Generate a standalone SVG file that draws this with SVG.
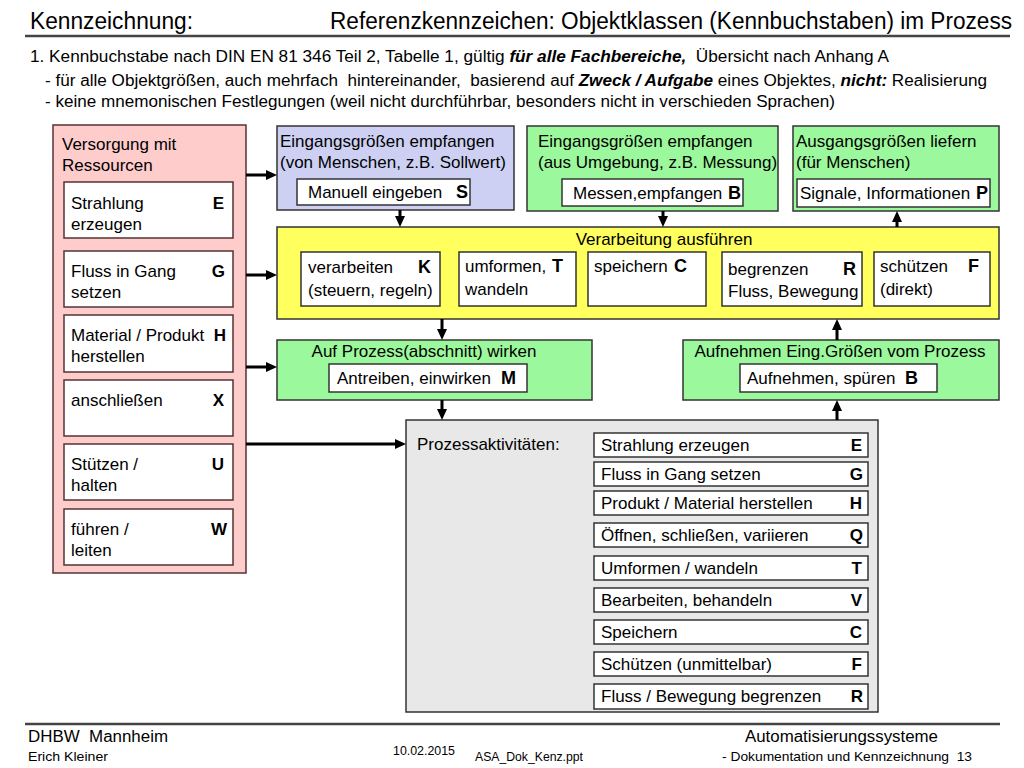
<svg xmlns="http://www.w3.org/2000/svg" width="1024" height="768" viewBox="0 0 1024 768">
<style>
text{font-family:'Liberation Sans',Arial,sans-serif;font-size:17px;fill:#000}
.h{font-size:23px}
.m{font-size:16px}
.s{font-size:13px}
.b{font-weight:bold}
.bi{font-weight:bold;font-style:italic}
.L{font-weight:bold;font-size:18px}
.box{stroke:#333;stroke-width:1.5}
.pink{fill:#FFCCCC;stroke:#553333}
.blue{fill:#CDD0F2}
.green{fill:#9CF89C}
.yellow{fill:#FFFF5E}
.grey{fill:#E8E8E8}
.w{fill:#fff}
.sub{fill:#fff;stroke:#553333;stroke-width:1.5}
.rule{stroke:#444;stroke-width:2.5}
#connectors line{stroke:#000;stroke-width:3}
</style>
<defs>
<marker id="ah" markerUnits="userSpaceOnUse" markerWidth="11" markerHeight="10" refX="0" refY="5" orient="auto">
<path d="M0,0 L11,5 L0,10 z" fill="#000"/>
</marker>
</defs>
<rect width="1024" height="768" fill="#fff"/>

<g id="header">
<text class="h" x="30" y="29" textLength="163" lengthAdjust="spacingAndGlyphs">Kennzeichnung:</text>
<text class="h" x="330" y="29" textLength="682" lengthAdjust="spacingAndGlyphs">Referenzkennzeichen: Objektklassen (Kennbuchstaben) im Prozess</text>
<line class="rule" x1="25" y1="36" x2="1010" y2="36"/>
<text class="m" xml:space="preserve" x="30" y="62" textLength="859" lengthAdjust="spacingAndGlyphs">1. Kennbuchstabe nach DIN EN 81 346 Teil 2, Tabelle 1, gültig <tspan class="bi">für alle Fachbereiche,</tspan>  Übersicht nach Anhang A</text>
<text class="m" xml:space="preserve" x="45" y="86" textLength="942" lengthAdjust="spacingAndGlyphs">- für alle Objektgrößen, auch mehrfach  hintereinander,  basierend auf <tspan class="bi">Zweck / Aufgabe</tspan> eines Objektes, <tspan class="bi">nicht:</tspan> Realisierung</text>
<text class="m" x="45" y="107" textLength="790" lengthAdjust="spacingAndGlyphs">- keine mnemonischen Festlegungen (weil nicht durchführbar, besonders nicht in verschieden Sprachen)</text>
</g>

<g id="resources">
<rect class="box pink" x="53" y="125" width="193" height="448"/>
<text x="62" y="150">Versorgung mit</text>
<text x="62" y="171">Ressourcen</text>
<rect class="sub" x="64" y="182" width="169" height="56"/>
<text x="71" y="209">Strahlung</text><text class="b" x="224" y="209" text-anchor="end">E</text>
<text x="71" y="230">erzeugen</text>
<rect class="sub" x="64" y="251" width="169" height="56"/>
<text x="71" y="277">Fluss in Gang</text><text class="b" x="225" y="277" text-anchor="end">G</text>
<text x="71" y="298">setzen</text>
<rect class="sub" x="64" y="315" width="169" height="57"/>
<text x="71" y="341">Material / Produkt</text><text class="b" x="226" y="341" text-anchor="end">H</text>
<text x="71" y="362">herstellen</text>
<rect class="sub" x="64" y="380" width="169" height="56"/>
<text x="71" y="406">anschließen</text><text class="b" x="224" y="406" text-anchor="end">X</text>
<rect class="sub" x="64" y="444" width="169" height="56"/>
<text x="71" y="470">Stützen /</text><text class="b" x="224" y="470" text-anchor="end">U</text>
<text x="71" y="491">halten</text>
<rect class="sub" x="64" y="509" width="169" height="56"/>
<text x="71" y="535">führen /</text><text class="b" x="227" y="535" text-anchor="end">W</text>
<text x="71" y="556">leiten</text>
</g>

<g id="input-human">
<rect class="box blue" x="277" y="126" width="237" height="84"/>
<text x="280" y="147">Eingangsgrößen empfangen</text>
<text x="280" y="168">(von Menschen, z.B. Sollwert)</text>
<rect class="box w" x="297" y="179" width="173" height="26"/>
<text x="308" y="198">Manuell eingeben</text><text class="L" x="468" y="198" text-anchor="end">S</text>
</g>

<g id="input-env">
<rect class="box green" x="527" y="126" width="251" height="85"/>
<text x="538" y="147">Eingangsgrößen empfangen</text>
<text x="538" y="168">(aus Umgebung, z.B. Messung)</text>
<rect class="box w" x="562" y="179" width="181" height="27"/>
<text x="573" y="199">Messen,empfangen</text><text class="L" x="741" y="199" text-anchor="end">B</text>
</g>

<g id="output-human">
<rect class="box green" x="793" y="126" width="206" height="85"/>
<text x="796" y="147">Ausgangsgrößen liefern</text>
<text x="796" y="168">(für Menschen)</text>
<rect class="box w" x="797" y="179" width="193" height="28"/>
<text x="800" y="199">Signale, Informationen</text><text class="L" x="988" y="199" text-anchor="end">P</text>
</g>

<g id="processing">
<rect class="box yellow" x="277" y="227" width="722" height="92"/>
<text x="664" y="245" text-anchor="middle">Verarbeitung ausführen</text>
<rect class="box w" x="301" y="252" width="139" height="54"/>
<text x="308" y="273">verarbeiten</text><text class="L" x="431" y="273" text-anchor="end">K</text>
<text x="308" y="296">(steuern, regeln)</text>
<rect class="box w" x="459" y="252" width="117" height="54"/>
<text x="465" y="272">umformen,</text><text class="L" x="563" y="272" text-anchor="end">T</text>
<text x="465" y="295">wandeln</text>
<rect class="box w" x="588" y="252" width="118" height="54"/>
<text x="594" y="272">speichern</text><text class="L" x="687" y="272" text-anchor="end">C</text>
<rect class="box w" x="722" y="252" width="140" height="54"/>
<text x="728" y="275">begrenzen</text><text class="L" x="856" y="275" text-anchor="end">R</text>
<text x="728" y="297">Fluss, Bewegung</text>
<rect class="box w" x="874" y="252" width="116" height="54"/>
<text x="880" y="272">schützen</text><text class="L" x="979" y="272" text-anchor="end">F</text>
<text x="880" y="295">(direkt)</text>
</g>

<g id="act-on-process">
<rect class="box green" x="277" y="340" width="315" height="60"/>
<text x="424" y="357" text-anchor="middle">Auf Prozess(abschnitt) wirken</text>
<rect class="box w" x="329" y="364" width="198" height="28"/>
<text x="337" y="384">Antreiben, einwirken</text><text class="L" x="516" y="384" text-anchor="end">M</text>
</g>

<g id="sense-process">
<rect class="box green" x="683" y="340" width="316" height="60"/>
<text x="840" y="357" text-anchor="middle">Aufnehmen Eing.Größen vom Prozess</text>
<rect class="box w" x="740" y="364" width="197" height="28"/>
<text x="747" y="384">Aufnehmen, spüren</text><text class="L" x="918" y="384" text-anchor="end">B</text>
</g>

<g id="process">
<rect class="box grey" x="406" y="420" width="472" height="292"/>
<text x="417" y="450">Prozessaktivitäten:</text>
<g>
<rect class="box w" x="594" y="433" width="274" height="24"/><text x="601" y="451">Strahlung erzeugen</text><text class="b" x="862" y="451" text-anchor="end">E</text>
<rect class="box w" x="594" y="462" width="274" height="24"/><text x="601" y="480">Fluss in Gang setzen</text><text class="b" x="863" y="480" text-anchor="end">G</text>
<rect class="box w" x="594" y="491" width="274" height="24"/><text x="601" y="509">Produkt / Material herstellen</text><text class="b" x="862" y="509" text-anchor="end">H</text>
<rect class="box w" x="594" y="523" width="274" height="24"/><text x="601" y="541">Öffnen, schließen, variieren</text><text class="b" x="863" y="541" text-anchor="end">Q</text>
<rect class="box w" x="594" y="556" width="274" height="24"/><text x="601" y="574">Umformen / wandeln</text><text class="b" x="862" y="574" text-anchor="end">T</text>
<rect class="box w" x="594" y="588" width="274" height="24"/><text x="601" y="606">Bearbeiten, behandeln</text><text class="b" x="862" y="606" text-anchor="end">V</text>
<rect class="box w" x="594" y="620" width="274" height="24"/><text x="601" y="638">Speichern</text><text class="b" x="862" y="638" text-anchor="end">C</text>
<rect class="box w" x="594" y="652" width="274" height="24"/><text x="601" y="670">Schützen (unmittelbar)</text><text class="b" x="862" y="670" text-anchor="end">F</text>
<rect class="box w" x="594" y="684" width="274" height="25"/><text x="601" y="702">Fluss / Bewegung begrenzen</text><text class="b" x="863" y="702" text-anchor="end">R</text>
</g>
</g>

<g id="connectors">
<line x1="246" y1="175" x2="266" y2="175" marker-end="url(#ah)"/>
<line x1="246" y1="275" x2="266" y2="275" marker-end="url(#ah)"/>
<line x1="246" y1="367" x2="266" y2="367" marker-end="url(#ah)"/>
<line x1="246" y1="444" x2="395" y2="444" marker-end="url(#ah)"/>
<line x1="400" y1="210" x2="400" y2="216" marker-end="url(#ah)"/>
<line x1="663" y1="211" x2="663" y2="216" marker-end="url(#ah)"/>
<line x1="897" y1="227" x2="897" y2="222" marker-end="url(#ah)"/>
<line x1="442" y1="319" x2="442" y2="329" marker-end="url(#ah)"/>
<line x1="837" y1="340" x2="837" y2="330" marker-end="url(#ah)"/>
<line x1="442" y1="400" x2="442" y2="409" marker-end="url(#ah)"/>
<line x1="837" y1="420" x2="837" y2="411" marker-end="url(#ah)"/>
</g>

<g id="footer">
<line class="rule" x1="25" y1="724" x2="1000" y2="724"/>
<text class="m" xml:space="preserve" x="28" y="742" textLength="140" lengthAdjust="spacingAndGlyphs">DHBW  Mannheim</text>
<text class="s" x="28" y="761" textLength="80" lengthAdjust="spacingAndGlyphs">Erich Kleiner</text>
<text class="s" x="393" y="755" textLength="62" lengthAdjust="spacingAndGlyphs">10.02.2015</text>
<text class="s" x="475" y="761" textLength="108" lengthAdjust="spacingAndGlyphs">ASA_Dok_Kenz.ppt</text>
<text class="m" x="745" y="742" textLength="193" lengthAdjust="spacingAndGlyphs">Automatisierungssysteme</text>
<text class="s" xml:space="preserve" x="722" y="761" textLength="250" lengthAdjust="spacingAndGlyphs">- Dokumentation und Kennzeichnung  13</text>
</g>
</svg>
